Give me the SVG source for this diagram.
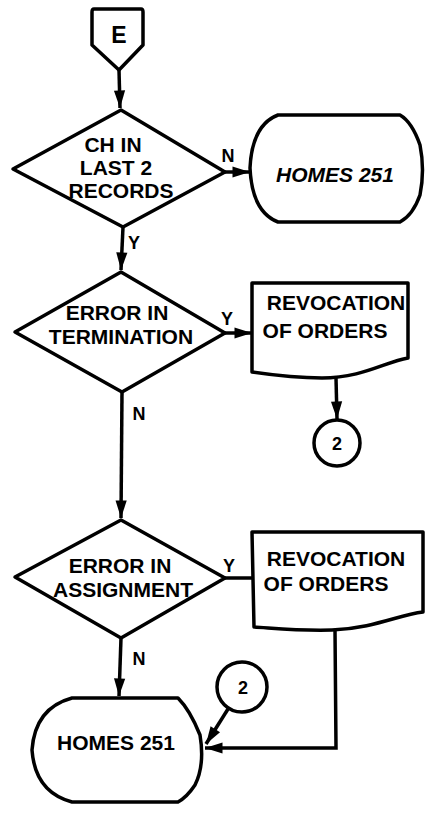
<svg xmlns="http://www.w3.org/2000/svg" width="427" height="824" viewBox="0 0 427 824">
<style>
.s{fill:#fff;stroke:#000;stroke-width:3.5;stroke-linejoin:round}
.c{fill:none;stroke:#000;stroke-width:3.5}
text{font-family:"Liberation Sans",Arial,sans-serif;font-weight:bold;fill:#000;text-anchor:middle}
.t{font-size:21px}
.l{font-size:18px}
</style>
<defs>
<marker id="a" viewBox="0 0 10 10" refX="10" refY="5" markerWidth="5.5" markerHeight="5" markerUnits="strokeWidth" orient="auto">
<path d="M0,1.8 L10,5 L0,8.2 Z" fill="#000"/>
</marker>
</defs>
<g id="connectors">
<line class="c" x1="119" y1="70" x2="120" y2="108" marker-end="url(#a)"/>
<line class="c" x1="225" y1="172" x2="250" y2="172" marker-end="url(#a)"/>
<line class="c" x1="123" y1="227" x2="121" y2="270" marker-end="url(#a)"/>
<line class="c" x1="225" y1="333" x2="252" y2="333" marker-end="url(#a)"/>
<line class="c" x1="336" y1="378" x2="337" y2="419" marker-end="url(#a)"/>
<line class="c" x1="122" y1="392" x2="121" y2="518" marker-end="url(#a)"/>
<line class="c" x1="225" y1="578" x2="252" y2="578"/>
<line class="c" x1="121" y1="638" x2="119" y2="696" marker-end="url(#a)"/>
<line class="c" x1="228" y1="709" x2="206" y2="744" marker-end="url(#a)"/>
<polyline class="c" points="335,630 336,748 205,748" marker-end="url(#a)"/>
<text class="l" x="228" y="162">N</text>
<text class="l" x="134" y="249">Y</text>
<text class="l" x="227" y="325">Y</text>
<text class="l" x="139" y="420">N</text>
<text class="l" x="229" y="572">Y</text>
<text class="l" x="139" y="665">N</text>
</g>
<g id="start-E">
<path class="s" d="M94,9 H141 Q143,9 143,12 V45 L119,70 L92,45 V12 Q92,9 94,9 Z"/>
<text x="119" y="43" style="font-size:23px">E</text>
</g>
<g id="decision-ch">
<polygon class="s" points="121,110 225,172 123,227 13,169"/>
<text class="t" x="113" y="152">CH IN</text>
<text class="t" x="116" y="175">LAST 2</text>
<text class="t" x="121" y="198">RECORDS</text>
</g>
<g id="homes-1">
<path class="s" d="M278,115 H400 Q412,122 420,145 Q425,170 420,195 Q413,215 400,222 H278 Q252,212 250,168 Q252,125 278,115 Z"/>
<text class="t" x="335" y="182" font-style="italic">HOMES 251</text>
</g>
<g id="decision-term">
<polygon class="s" points="121,272 225,333 122,392 15,332"/>
<text class="t" x="117" y="320">ERROR IN</text>
<text class="t" x="121" y="344">TERMINATION</text>
</g>
<g id="revocation-1">
<path class="s" d="M252,283 H408 V358 C385,362 362,378 322,378 C292,378 272,375 252,372 Z"/>
<text class="t" x="336" y="310">REVOCATION</text>
<text class="t" x="325" y="338">OF ORDERS</text>
</g>
<g id="connector-2a">
<circle class="s" cx="337" cy="443" r="23"/>
<text class="l" x="337" y="450">2</text>
</g>
<g id="decision-assign">
<polygon class="s" points="121,520 225,578 121,638 15,577"/>
<text class="t" x="120" y="573">ERROR IN</text>
<text class="t" x="123" y="597">ASSIGNMENT</text>
</g>
<g id="revocation-2">
<path class="s" d="M252,532 H423 V612 C398,615 375,628 332,630 C298,631 272,628 254,627 Z"/>
<text class="t" x="336" y="566">REVOCATION</text>
<text class="t" x="326" y="591">OF ORDERS</text>
</g>
<g id="connector-2b">
<circle class="s" cx="242" cy="687" r="25"/>
<text class="l" x="243" y="694">2</text>
</g>
<g id="homes-2">
<path class="s" d="M72,698 H178 Q190,710 200,735 Q205,765 195,785 Q187,797 178,802 H72 Q35,792 32,750 Q35,708 72,698 Z"/>
<text class="t" x="116" y="750">HOMES 251</text>
</g>
</svg>
